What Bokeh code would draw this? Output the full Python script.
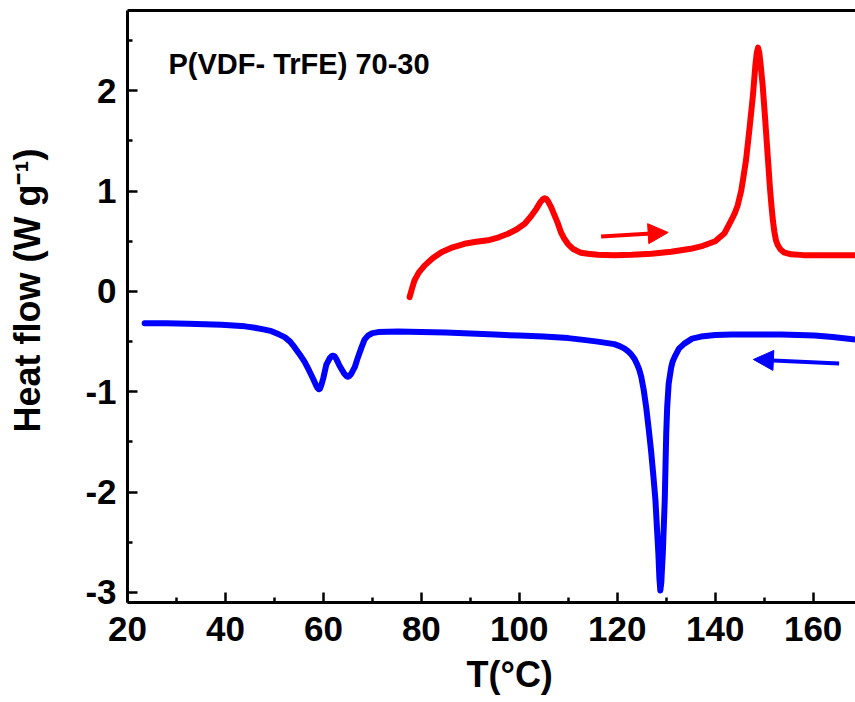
import math
from bokeh.plotting import figure
from bokeh.models import (Range1d, FixedTicker, LinearAxis, Label, Arrow, NormalHead, Title)
from bokeh.embed import file_html
from bokeh.resources import INLINE

# ---------------- data ----------------
cool_T = [23.5, 28, 32.4, 39.2, 44, 46.0, 48, 49.4, 51, 52.1, 53.2, 54.1, 55.2, 56.2, 57.1,
          57.9, 58.5, 58.8, 59.05, 59.3, 59.6, 60.0, 60.6, 61.3, 61.7, 62.0, 62.3, 62.6, 63.3,
          64.2, 64.7, 65.0, 65.3, 65.7, 66.4, 67.1, 67.8, 68.4, 69.1, 70.0, 71.2, 75.2, 80, 85,
          90, 95, 100, 105, 110, 112.7, 116, 119.4, 120.5, 121.5, 122.3, 122.9, 123.5, 124.0,
          124.5, 124.9, 125.4, 125.9, 126.4, 126.9, 127.4, 127.8, 128.1, 128.4, 128.6, 128.8,
          129.0, 129.15, 129.3, 129.5, 129.7, 129.85, 130.0, 130.2, 130.5, 131.0, 131.3, 131.7,
          132.6, 133.7, 135.3, 137.1, 140, 143.3, 148, 153.5, 157, 160.3, 164, 168.8]
cool_H = [-0.316, -0.318, -0.322, -0.332, -0.348, -0.362, -0.38, -0.396, -0.43, -0.455, -0.50,
          -0.555, -0.63, -0.705, -0.79, -0.87, -0.935, -0.962, -0.975, -0.968, -0.93, -0.86,
          -0.73, -0.665, -0.645, -0.64, -0.648, -0.67, -0.74, -0.815, -0.843, -0.85, -0.843,
          -0.82, -0.755, -0.65, -0.555, -0.48, -0.44, -0.415, -0.405, -0.40, -0.405, -0.41,
          -0.42, -0.43, -0.44, -0.45, -0.465, -0.48, -0.50, -0.525, -0.545, -0.57, -0.60, -0.63,
          -0.67, -0.72, -0.78, -0.85, -0.98, -1.15, -1.36, -1.585, -1.85, -2.08, -2.35, -2.615,
          -2.85, -2.98, -2.9, -2.75, -2.615, -2.35, -2.08, -1.75, -1.42, -1.15, -0.92, -0.76,
          -0.70, -0.655, -0.57, -0.52, -0.47, -0.45, -0.435, -0.43, -0.428, -0.43, -0.433,
          -0.44, -0.455, -0.48]

heat_T = [77.6, 78.1, 78.6, 79.5, 80.7, 82.3, 84.1, 86.4, 88.8, 91.2, 93.6, 95.8, 97.7, 99.5,
          101.1, 102.4, 103.5, 104.3, 104.8, 105.15, 105.5, 105.85, 106.5, 107.2, 107.9, 108.5,
          109.2, 109.9, 110.9, 112.6, 114.0, 116.0, 119.4, 123, 127, 131, 135, 137.5, 140,
          141.9, 143.3, 144.0, 144.6, 145.3, 145.8, 146.3, 147.0, 147.7, 148.2, 148.5, 148.75,
          149.0, 149.3, 149.7, 150.2, 150.7, 151.2, 151.5, 151.8, 152.1, 152.4, 152.8, 153.3,
          154.0, 155.5, 158, 169]
heat_H = [-0.057, 0.03, 0.11, 0.19, 0.26, 0.33, 0.39, 0.44, 0.475, 0.495, 0.51, 0.54, 0.575,
          0.62, 0.675, 0.75, 0.825, 0.89, 0.918, 0.928, 0.922, 0.90, 0.84, 0.758, 0.675, 0.59,
          0.525, 0.475, 0.426, 0.385, 0.375, 0.365, 0.36, 0.365, 0.375, 0.395, 0.425, 0.455,
          0.50, 0.58, 0.71, 0.78, 0.86, 1.0, 1.15, 1.31, 1.62, 1.95, 2.25, 2.38, 2.43, 2.38,
          2.25, 2.05, 1.72, 1.37, 1.02, 0.85, 0.70, 0.59, 0.51, 0.46, 0.42, 0.39, 0.37, 0.362,
          0.36]

x_ticks = [20, 40, 60, 80, 100, 120, 140, 160]
x_minor = [30, 50, 70, 90, 110, 130, 150, 170]
y_ticks = [-3, -2, -1, 0, 1, 2]
y_minor = [-2.5, -1.5, -0.5, 0.5, 1.5, 2.5]
y_tick_labels = {-3: "-3", -2: "-2", -1: "-1", 0: "0", 1: "1", 2: "2"}

heat_arrow = [(116.7, 0.548), (130.4, 0.588)]
cool_arrow = [(165.3, -0.718), (147.8, -0.678)]

sample_text = "P(VDF- TrFE) 70-30"
x_title = "T(°C)"
y_title = "Heat flow (W g\u207b\u00b9)"

# ---------------- layout ----------------
W, H = 855, 702
X0, X1 = 20.0, 168.65
Y0, Y1 = -3.10, 2.80
FONT = "Liberation Sans"
FL, FR, FT, FB = 127.0, 855.0, 10.0, 602.0

def dx(px):
    return X0 + (px - FL) * (X1 - X0) / (FR - FL)
def dy(py):
    return Y1 - (py - FT) * (Y1 - Y0) / (FB - FT)

p = figure(width=W, height=H, output_backend="svg", toolbar_location=None,
           x_range=Range1d(X0, X1), y_range=Range1d(Y0, Y1),
           min_border_left=int(FL), min_border_right=0, min_border_top=int(FT),
           min_border_bottom=int(H - FB))
p.outline_line_color = None
p.xgrid.visible = False
p.ygrid.visible = False
p.background_fill_color = "white"
p.border_fill_color = "white"

for ax in (p.xaxis[0], p.yaxis[0]):
    ax.axis_line_width = 3
    ax.axis_line_color = "black"
    ax.major_tick_in = 10
    ax.major_tick_out = 0
    ax.minor_tick_in = 5
    ax.minor_tick_out = 0
    ax.major_tick_line_width = 2.5
    ax.minor_tick_line_width = 2.5
    ax.major_tick_line_color = "black"
    ax.minor_tick_line_color = "black"
    ax.major_label_text_font = FONT
    ax.major_label_text_font_style = "bold"
    ax.major_label_text_font_size = "35px"
    ax.major_label_text_color = "black"

p.xaxis[0].ticker = FixedTicker(ticks=x_ticks, minor_ticks=x_minor)
p.yaxis[0].ticker = FixedTicker(ticks=y_ticks, minor_ticks=y_minor)
p.yaxis[0].major_label_overrides = y_tick_labels
p.xaxis[0].major_label_standoff = 14
p.yaxis[0].major_label_standoff = 11

top = LinearAxis(ticker=FixedTicker(ticks=[]), axis_line_width=3, axis_line_color="black",
                 major_tick_line_color=None, minor_tick_line_color=None,
                 major_label_text_font_size="0px", major_label_standoff=0,
                 major_tick_in=0, major_tick_out=0, minor_tick_in=0, minor_tick_out=0)
p.add_layout(top, "above")

p.add_layout(Title(text=x_title, align="left", offset=339, standoff=16, text_font=FONT,
                   text_font_style="bold", text_font_size="36px", text_color="black"), "below")
# blank spacer panel between the y axis and its title
p.add_layout(Title(text=" ", standoff=32, text_font=FONT, text_font_size="1px",
                   text_color="white"), "left")
p.add_layout(Title(text=y_title, align="left", offset=170, standoff=0, text_font=FONT,
                   text_font_style="bold", text_font_size="36px", text_color="black"), "left")

p.line(cool_T, cool_H, line_color="#0000FF", line_width=6, line_cap="round", line_join="round")
p.line(heat_T, heat_H, line_color="#FF0000", line_width=6, line_cap="round", line_join="round")

for (s, e), col in ((heat_arrow, "#FF0000"), (cool_arrow, "#0000FF")):
    p.add_layout(Arrow(x_start=s[0], y_start=s[1], x_end=e[0], y_end=e[1],
                       line_color=col, line_width=4,
                       end=NormalHead(size=20, fill_color=col, line_color=col, line_width=1)))

p.add_layout(Label(x=dx(168), y=dy(63), text=sample_text, text_font=FONT,
                   text_font_style="bold", text_font_size="29px", text_color="black",
                   text_align="left", text_baseline="alphabetic"))

open("out.html", "w").write(file_html(p, INLINE))
